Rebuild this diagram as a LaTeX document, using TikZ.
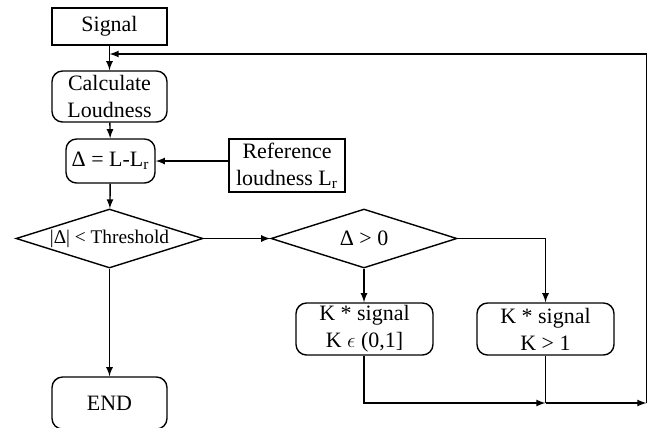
\documentclass[tikz,border=0pt]{standalone}
\usepackage{fontspec}
\setmainfont{Liberation Serif}
\usepackage{tikz}
\usetikzlibrary{positioning, shapes.geometric}
\tikzset{
    block/.style={
        draw, thick,
        minimum width = 2.3cm,
        minimum height = 0.74cm,
        inner sep = 1pt,
        align = center,
        font = \fontsize{12.5}{15.3}\selectfont
    },
    rblock/.style = {block, rounded corners = 6pt},
    decision/.style = {
        draw, thick, diamond, aspect = 3.17,
        inner sep = 0pt,
        minimum width = 3.74cm, minimum height = 1.18cm,
        align = center,
        font = \fontsize{12.5}{15.3}\selectfont
    },
    line/.style = {-latex, thick},
    wire/.style = {thick}
}

\begin{document}
\begin{tikzpicture}[x=0.02cm, y=-0.02cm]

    \useasboundingbox (0,0) rectangle (649,427);

    % Main column
    \node[block] (signal) at (109.5,26.5) {Signal};
    \node[rblock, minimum height = 1.02cm] (calc) at (109.5,96.5) {Calculate\\Loudness};
    \node[rblock, minimum width = 1.78cm, minimum height = 0.88cm] (delta) at (110.5,161) {Δ = L-L\textsubscript{r}};
    \node[decision, font = \fontsize{11}{13}\selectfont] (thresh) at (109.5,238.5) {|Δ| < Threshold};
    \node[rblock, minimum height = 1.04cm] (finish) at (109.5,403) {END};

    % Reference
    \node[block, minimum width = 2.32cm, minimum height = 1.06cm] (ref) at (287,165.5) {Reference\\loudness L\textsubscript{r}};

    % Gain branch
    \node[decision, minimum width = 3.72cm] (sign) at (364,238.5) {Δ > 0};
    \node[rblock, minimum width = 2.74cm, minimum height = 1.04cm] (kdown) at (364.5,329) {K * signal\\K $\epsilon$ (0,1]};
    \node[rblock, minimum width = 2.74cm, minimum height = 1.04cm] (kup) at (545.5,329) {K * signal\\K > 1};

    % Loop points
    \coordinate (merge) at (545.5,403);
    \coordinate (corner) at (646.5,403);
    \coordinate (back) at (109.5,54);

    % Arrows
    \draw[line] (signal) -- (calc);
    \draw[line] (calc) -- (delta);
    \draw[line] (ref.west |- delta.east) -- (delta.east);
    \draw[line] (delta) -- (thresh);
    \draw[line] (thresh) -- (finish);
    \draw[line] (thresh.east) -- (sign.west);
    \draw[line] (sign.south) -- (kdown.north -| sign.south);
    \draw[line] (sign.east) -| (kup.north);
    \draw[line] (kdown.south -| sign.south) |- (merge);
    \draw[wire] (kup.south) -- (merge);
    \draw[line] (merge) -- (corner);
    \draw[line] (corner) |- (back);

\end{tikzpicture}
\end{document}
